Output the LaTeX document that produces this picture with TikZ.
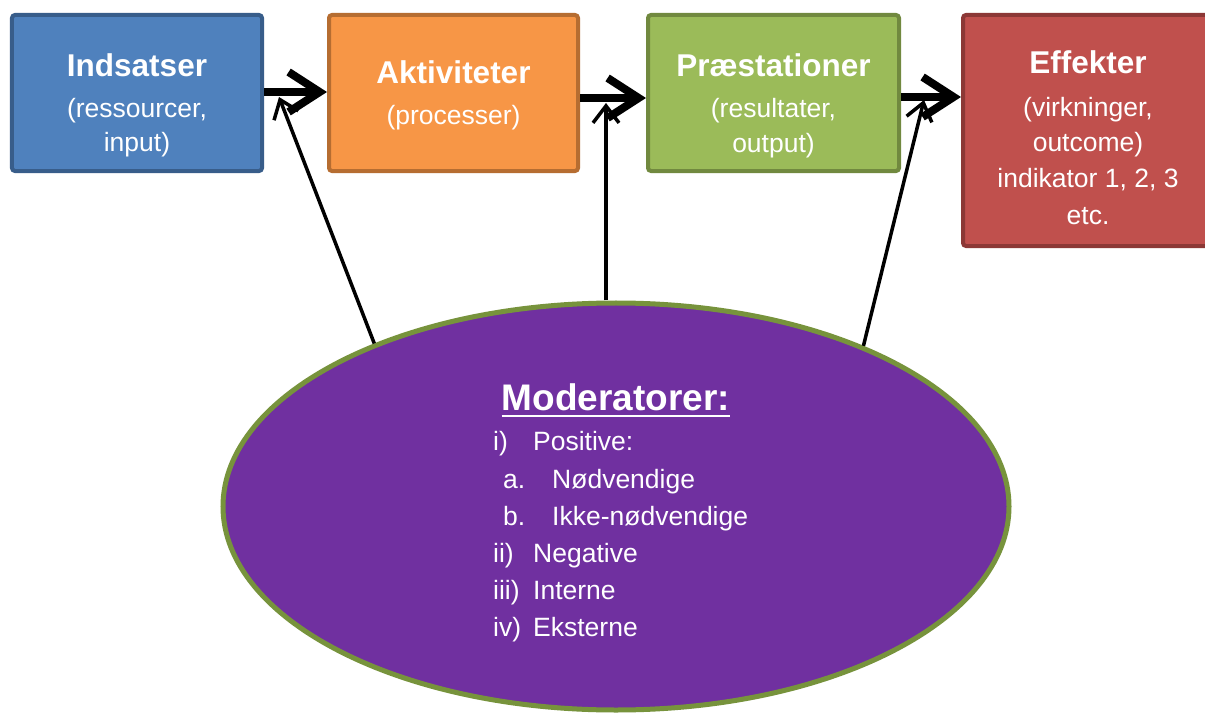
\documentclass[tikz,border=0pt]{standalone}
\usepackage{fontspec}
\setmainfont{Liberation Sans}
\usetikzlibrary{arrows.meta,shapes.geometric}
\definecolor{blueF}{HTML}{4F81BD}
\definecolor{blueD}{HTML}{385D8A}
\definecolor{orangeF}{HTML}{F79646}
\definecolor{orangeD}{HTML}{B66D31}
\definecolor{greenF}{HTML}{9BBB59}
\definecolor{greenD}{HTML}{71893F}
\definecolor{redF}{HTML}{C0504D}
\definecolor{redD}{HTML}{8C3836}
\definecolor{purpleF}{HTML}{7030A0}
\definecolor{oliveD}{HTML}{77933C}
\begin{document}
\begin{tikzpicture}[x=1bp,y=-1bp,
  boxnode/.style={draw, line width=4bp, rounded corners=3bp, inner sep=0pt},
  ttl/.style={font=\fontsize{31.5bp}{36bp}\selectfont\bfseries, text=white, anchor=base, inner sep=0pt},
  sub/.style={font=\fontsize{26.5bp}{32bp}\selectfont, text=white, anchor=base, inner sep=0pt},
  item/.style={font=\fontsize{26.5bp}{32bp}\selectfont, text=white, anchor=base west, inner sep=0pt},
  bigarrow/.style={draw=black, line width=8bp, -{Straight Barb[length=31bp,width=40bp]}},
  thinarrow/.style={draw=black, line width=3.5bp, -{Straight Barb[length=17bp,width=26bp]}}
]
\clip (0,0) rectangle (1205,713);
\fill[white] (0,0) rectangle (1205,713);

% boxes
\node[boxnode, fill=blueF, draw=blueD, minimum width=250bp, minimum height=156bp] (ind) at (137,93) {};
\node[boxnode, fill=orangeF, draw=orangeD, minimum width=249bp, minimum height=156bp] (akt) at (453.5,93) {};
\node[boxnode, fill=greenF, draw=greenD, minimum width=251bp, minimum height=156bp] (pra) at (773.5,93) {};
\node[boxnode, fill=redF, draw=redD, minimum width=260bp, minimum height=231bp] (eff) at (1093,130.5) {};

% box texts
\node[ttl] (indt) at (137,77) {Indsatser};
\node[sub] (inds1) at (137,118) {(ressourcer,};
\node[sub] (inds2) at (137,152) {input)};

\node[ttl] (aktt) at (453.5,84) {Aktiviteter};
\node[sub] (akts1) at (453.5,125) {(processer)};

\node[ttl] (prat) at (773.5,77) {Præstationer};
\node[sub] (pras1) at (773.5,118) {(resultater,};
\node[sub] (pras2) at (773.5,153) {output)};

\node[ttl] (efft) at (1088,74) {Effekter};
\node[sub] (effs1) at (1088,117) {(virkninger,};
\node[sub] (effs2) at (1088,152) {outcome)};
\node[sub] (effs3) at (1088,188) {indikator 1, 2, 3};
\node[sub] (effs4) at (1088,225) {etc.};

% ellipse
\node[ellipse, draw=oliveD, fill=purpleF, line width=5bp, minimum width=786bp, minimum height=407bp, inner sep=0pt] (mod) at (616,506.5) {};

\node[font=\fontsize{37bp}{42bp}\selectfont\bfseries, text=white, anchor=base, inner sep=0pt] (modt) at (616,410) {Moderatorer:};
\draw[white, line width=2.6bp] ([yshift=-6bp]modt.base west) -- ([yshift=-6bp]modt.base east);

\node[item] (l1) at (493,450) {i)};
\node[item] (t1) at (533,450) {Positive:};
\node[item] (l2) at (503,488) {a.};
\node[item] (t2) at (552,488) {Nødvendige};
\node[item] (l3) at (503,525) {b.};
\node[item] (t3) at (552,525) {Ikke-nødvendige};
\node[item] (l4) at (493,562) {ii)};
\node[item] (t4) at (533,562) {Negative};
\node[item] (l5) at (493,599) {iii)};
\node[item] (t5) at (533,599) {Interne};
\node[item] (l6) at (493,636) {iv)};
\node[item] (t6) at (533,636) {Eksterne};

% thick arrows
\draw[bigarrow] (ind.east |- 0,92) -- (akt.west |- 0,92);
\draw[bigarrow] (akt.east |- 0,98) -- (pra.west |- 0,98);
\draw[bigarrow] (pra.east |- 0,97) -- (eff.west |- 0,97);

% thin arrow targets
\coordinate (c1) at (279,97);
\coordinate (c2) at (606,103);
\coordinate (c3) at (924,100);

\draw[thinarrow] (mod.146) -- (c1);
\draw[thinarrow] (c2 |- mod.north) -- (c2);
\draw[thinarrow] (mod.33.3) -- (c3);
\end{tikzpicture}
\end{document}
